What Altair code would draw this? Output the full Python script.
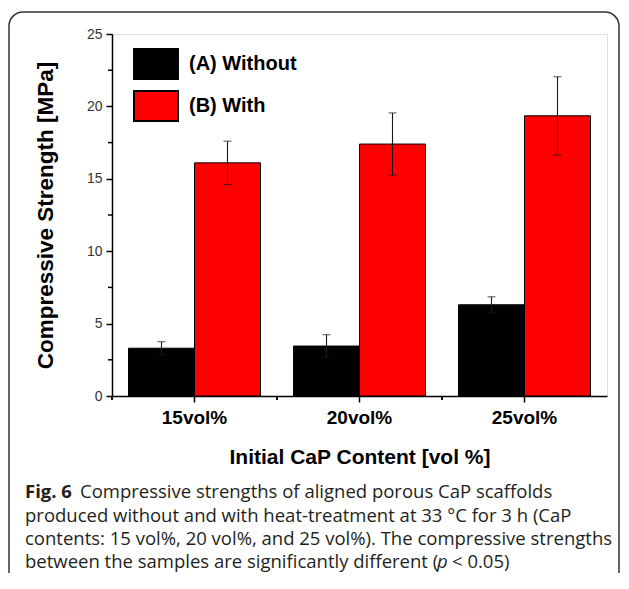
import altair as alt
import pandas as pd

categories = ["15vol%", "20vol%", "25vol%"]
groups = ["(A) Without", "(B) With"]
without_vals = [3.3, 3.45, 6.3]
without_err = [0.45, 0.78, 0.55]
with_vals = [16.1, 17.4, 19.35]
with_err = [1.5, 2.15, 2.7]
y_ticks = [0, 5, 10, 15, 20, 25]
y_minor = [2.5, 7.5, 12.5, 17.5, 22.5]

caption_bold = "Fig. 6"
caption_lines = [
    "Compressive strengths of aligned porous CaP scaffolds",
    "produced without and with heat-treatment at 33 \u00b0C for 3 h (CaP",
    "contents: 15 vol%, 20 vol%, and 25 vol%). The compressive strengths",
    "between the samples are significantly different (",
]

rows = []
for i, c in enumerate(categories):
    rows.append({"cat": c, "grp": groups[0], "v": without_vals[i],
                 "lo": without_vals[i] - without_err[i], "hi": without_vals[i] + without_err[i]})
    rows.append({"cat": c, "grp": groups[1], "v": with_vals[i],
                 "lo": with_vals[i] - with_err[i], "hi": with_vals[i] + with_err[i]})
df = pd.DataFrame(rows)

W, H = 495, 362
FONT = "Liberation Sans"

xscale = alt.Scale(paddingInner=0, paddingOuter=0)
xoff = alt.XOffset("grp:N", scale=alt.Scale(paddingInner=0, paddingOuter=0.25), sort=groups)
yscale = alt.Scale(domain=[0, 25], nice=False)

x_enc = alt.X("cat:N", sort=categories, scale=xscale,
              axis=alt.Axis(title="Initial CaP Content [vol %]", labelAngle=0,
                            labelFont=FONT, labelFontSize=19, labelFontWeight="bold",
                            labelColor="black", labelPadding=6, tickSize=6,
                            tickColor="black", tickWidth=1.5, domainColor="black",
                            domainWidth=1.5, titleFont=FONT, titleFontSize=21,
                            titleFontWeight="bold", titleColor="black",
                            titleX=W / 2, titleY=61, titleBaseline="middle"))
y_enc = alt.Y("v:Q", scale=yscale,
              axis=alt.Axis(title="Compressive Strength [MPa]", values=y_ticks, grid=False,
                            labelFont=FONT, labelFontSize=14, labelColor="#333333",
                            labelPadding=4, tickSize=6, tickColor="black", tickWidth=1.5,
                            domainColor="black", domainWidth=1.5, titleFont=FONT,
                            titleFontSize=22.5, titleFontWeight="bold", titleColor="black",
                            titleX=-67, titleY=H / 2, titleAlign="center",
                            titleBaseline="middle"))

base = alt.Chart(df)

bars = base.mark_bar(stroke="black", strokeWidth=1).encode(
    x=x_enc,
    xOffset=xoff,
    y=y_enc,
    color=alt.Color("grp:N", sort=groups,
                    scale=alt.Scale(domain=groups, range=["#000000", "#ff0000"]),
                    legend=alt.Legend(title=None, orient="none", legendX=21, legendY=7,
                                      symbolType="M-1,-0.68H1V0.68H-1Z", symbolSize=1936,
                                      symbolStrokeColor="black", symbolStrokeWidth=2,
                                      symbolOpacity=1,
                                      labelFont=FONT, labelFontSize=20,
                                      labelFontWeight="bold", labelColor="black",
                                      labelOffset=10, rowPadding=0, padding=0)),
)

err = base.mark_rule(color="#1a1a1a", strokeWidth=1.1).encode(
    x=alt.X("cat:N", sort=categories), xOffset=xoff,
    y=alt.Y("lo:Q"), y2="hi:Q",
)
caps_hi = base.mark_tick(color="#1a1a1a", thickness=1.1, size=8).encode(
    x=alt.X("cat:N", sort=categories), xOffset=xoff, y=alt.Y("hi:Q"),
)
caps_lo = base.mark_tick(color="#1a1a1a", thickness=1.1, size=8).encode(
    x=alt.X("cat:N", sort=categories), xOffset=xoff, y=alt.Y("lo:Q"),
)

bound_ticks = base.mark_rule(color="black", strokeWidth=1.5).encode(
    x=alt.X("cat:N", sort=categories, bandPosition=0),
    y=alt.value(H), y2=alt.value(H + 4),
)

minor = alt.Chart(pd.DataFrame({"m": y_minor})).mark_rule(color="black", strokeWidth=1.5).encode(
    y=alt.Y("m:Q"), x=alt.value(-4), x2=alt.value(0),
)

one = pd.DataFrame({"a": [0]})
frame = alt.Chart(one).mark_rect(filled=False, stroke="#333333", strokeWidth=1.5,
                                 cornerRadius=14).encode(
    x=alt.value(-103), x2=alt.value(507), y=alt.value(-22), y2=alt.value(700),
)

cap_font = "Open Sans"
cap_size = 18.5
cap_color = "#231f20"
line_y = [458, 481.5, 505, 528]


def cap_text(txt, x, y, **kw):
    return alt.Chart(one).mark_text(text=txt, font=cap_font, fontSize=cap_size,
                                    align="left", baseline="middle", color=cap_color,
                                    **kw).encode(x=alt.value(x), y=alt.value(y))


texts = [cap_text(caption_bold, -87, line_y[0], fontWeight="bold"),
         cap_text(caption_lines[0], -32, line_y[0])]
for k in range(1, 4):
    texts.append(cap_text(caption_lines[k], -87, line_y[k]))
texts.append(cap_text("p", 325, line_y[3], fontStyle="italic"))
texts.append(cap_text("< 0.05)", 340, line_y[3]))

chart = alt.layer(frame, bars, err, caps_hi, caps_lo, bound_ticks, minor,
                  *texts).properties(
    width=W, height=H,
    autosize=alt.AutoSizeParams(type="none"),
    padding={"left": 104, "top": 26, "right": 14, "bottom": 177},
).configure_view(stroke="black", strokeWidth=2).configure(font=FONT)

chart.save("out.html", embed_options={"renderer": "svg", "actions": False})
